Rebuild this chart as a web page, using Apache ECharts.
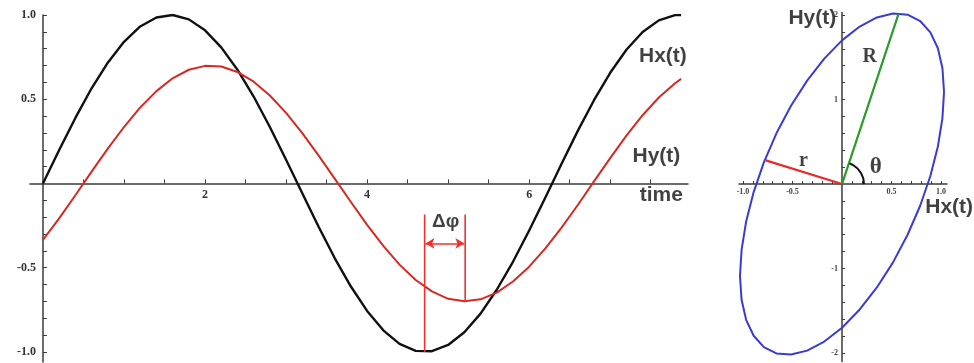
<!DOCTYPE html>
<html>
<head>
<meta charset="utf-8">
<script src="https://cdn.jsdelivr.net/npm/echarts@6/dist/echarts.min.js"></script>
<style>
html,body{margin:0;padding:0;background:#fff;}
#c{width:974px;height:363px;}
</style>
</head>
<body>
<div id="c"></div>
<script>
// ---- Left panel: time series ----
var timeVals = [0,0.2,0.4,0.6,0.8,1.0,1.2,1.4,1.6,1.8,2.0,2.2,2.4,2.6,2.8,3.0,3.2,3.4,3.6,3.8,4.0,4.2,4.4,4.6,4.8,5.0,5.2,5.4,5.6,5.8,6.0,6.2,6.4,6.6,6.8,7.0,7.2,7.4,7.6,7.8,7.875];
var hxVals = [0,0.199,0.389,0.565,0.717,0.841,0.932,0.985,1.0,0.974,0.909,0.808,0.675,0.516,0.335,0.141,-0.058,-0.256,-0.443,-0.612,-0.757,-0.872,-0.952,-0.994,-0.996,-0.959,-0.883,-0.773,-0.631,-0.465,-0.279,-0.083,0.117,0.312,0.494,0.657,0.794,0.899,0.968,0.999,1.0];
var hyVals = [-0.335,-0.207,-0.070,0.070,0.207,0.335,0.451,0.548,0.624,0.675,0.698,0.694,0.662,0.604,0.522,0.419,0.299,0.167,0.029,-0.110,-0.246,-0.371,-0.482,-0.573,-0.641,-0.685,-0.700,-0.688,-0.648,-0.582,-0.494,-0.385,-0.262,-0.128,0.012,0.150,0.284,0.405,0.510,0.595,0.621];
var leftXTicks = [0.5,1,1.5,2,2.5,3,3.5,4,4.5,5,5.5,6,6.5,7,7.5];
var leftXLabels = [2,4,6];
var leftYTicks = [-1,-0.9,-0.8,-0.7,-0.6,-0.5,-0.4,-0.3,-0.2,-0.1,0.1,0.2,0.3,0.4,0.5,0.6,0.7,0.8,0.9,1.0];
var leftYLabels = [-1,-0.5,0.5,1];
// Delta-phi marker: two minima times, top of the marker lines, arrow height, minima values
var dphiTimes = [4.71, 5.21];
var dphiBottoms = [-1.0, -0.70];
var dphiTop = -0.184;
var dphiArrowY = -0.356;
var leftTexts = [
  {name:'Hx(t)', x:7.65, y:0.754},
  {name:'Hy(t)', x:7.57, y:0.16},
  {name:'time',  x:7.63, y:-0.07},
  {name:'Δφ',    x:4.97, y:-0.226}
];

// ---- Right panel: polarisation ellipse ----
var ellX = [1.030,1.014,0.968,0.892,0.789,0.662,0.515,0.352,0.179,0,-0.179,-0.352,-0.515,-0.662,-0.789,-0.892,-0.968,-1.014,-1.030,-1.014,-0.968,-0.892,-0.789,-0.662,-0.515,-0.352,-0.179,0,0.179,0.352,0.515,0.662,0.789,0.892,0.968,1.014,1.030];
var ellY = [1.091,1.370,1.607,1.795,1.929,2.004,2.018,1.971,1.864,1.700,1.484,1.224,0.927,0.600,0.257,-0.095,-0.444,-0.780,-1.091,-1.370,-1.607,-1.795,-1.929,-2.004,-2.018,-1.971,-1.864,-1.700,-1.484,-1.224,-0.927,-0.600,-0.257,0.095,0.444,0.780,1.091];
var bigR = [0.57, 2.01];
var smallR = [-0.77, 0.28];
var arcX = [0.222,0.215,0.192,0.157,0.111,0.076];
var arcY = [0,0.067,0.13,0.184,0.225,0.244];
var rightXTicks = [-1,-0.9,-0.8,-0.7,-0.6,-0.5,-0.4,-0.3,-0.2,-0.1,0.1,0.2,0.3,0.4,0.5,0.6,0.7,0.8,0.9,1.0];
var rightXLabels = [-1,-0.5,0.5,1];
var rightYTicks = [-2,-1.8,-1.6,-1.4,-1.2,-1,-0.8,-0.6,-0.4,-0.2,0.2,0.4,0.6,0.8,1,1.2,1.4,1.6,1.8,2];
var rightYLabels = [-2,-1,1,2];
var rightTexts = [
  {name:'R',     x:0.28,  y:1.50, font:'serif', size:20},
  {name:'r',     x:-0.39, y:0.27, font:'serif', size:20},
  {name:'θ',     x:0.34,  y:0.20, font:'serif', size:23},
  {name:'Hy(t)', x:-0.30, y:1.96, font:'sans',  size:21}
];
var rightHxLabel = {name:'Hx(t)', x:0.84, y:-0.27};

function zip(a,b){ var r=[]; for(var i=0;i<a.length;i++) r.push([a[i],b[i]]); return r; }
function fmt1(v){ return (Math.round(v*10)/10).toFixed(1); }

var axisCol = '#3a3a3a';

// grid geometry (pixel boxes) and axis ranges
var G0 = {left:30, top:15, width:658, height:347};
var G1 = {left:739, top:12.5, width:208, height:349};
var X0 = [-0.16, 7.96], Y0 = [-1.06, 1.0];
var X1 = [-1.04, 1.06], Y1 = [-2.1, 2.03];
// offsets that bring each axis line onto the other axis' zero
var x0Off = -(G0.height * (0 - Y0[0]) / (Y0[1] - Y0[0]));
var y0Off = -(G0.width * (0 - X0[0]) / (X0[1] - X0[0]));
var x1Off = -(G1.height * (0 - Y1[0]) / (Y1[1] - Y1[0]));
var y1Off = -(G1.width * (0 - X1[0]) / (X1[1] - X1[0]));

var chart = echarts.init(document.getElementById('c'), null, {renderer:'canvas'});

var sansBold = {show:true, position:'inside', formatter:'{b}', fontFamily:'Liberation Sans', fontWeight:'bold', fontSize:21, color:'#111'};

function labelSeries(items, xi, yi, baseLabel){
  return {
    type:'scatter', xAxisIndex:xi, yAxisIndex:yi, symbolSize:0, silent:true, z:10,
    data: items.map(function(it){
      var l = Object.assign({}, baseLabel);
      if (it.font === 'serif') { l.fontFamily = 'Liberation Serif'; }
      if (it.size) l.fontSize = it.size;
      return {value:[it.x,it.y], name:it.name, label:l};
    }),
    label:{show:true, position:'inside', formatter:'{b}'}
  };
}

var option = {
  animation:false,
  backgroundColor:'#fff',
  grid:[G0, G1],
  xAxis:[
    {gridIndex:0, type:'value', min:X0[0], max:X0[1], position:'bottom', offset:x0Off,
     axisLine:{onZero:false, lineStyle:{color:axisCol, width:1.5}},
     axisTick:{show:true, inside:true, length:4, customValues:leftXTicks, lineStyle:{color:axisCol}},
     axisLabel:{show:true, customValues:leftXLabels, margin:5, fontSize:12, formatter:function(v){return String(v);}, fontFamily:'Liberation Serif', fontWeight:'bold', color:'#333'},
     splitLine:{show:false}},
    {gridIndex:1, type:'value', min:X1[0], max:X1[1], position:'bottom', offset:x1Off,
     axisLine:{onZero:false, lineStyle:{color:axisCol, width:1.5}},
     axisTick:{show:true, inside:true, length:3, customValues:rightXTicks, lineStyle:{color:axisCol}},
     axisLabel:{show:true, customValues:rightXLabels, margin:4, fontSize:8, formatter:fmt1, fontFamily:'Liberation Serif', fontWeight:'bold', color:'#444'},
     splitLine:{show:false}}
  ],
  yAxis:[
    {gridIndex:0, type:'value', min:Y0[0], max:Y0[1], position:'left', offset:y0Off,
     axisLine:{onZero:false, lineStyle:{color:axisCol, width:1.5}},
     axisTick:{show:true, inside:true, length:4, customValues:leftYTicks, lineStyle:{color:axisCol}},
     axisLabel:{show:true, customValues:leftYLabels, margin:7, fontSize:12, formatter:fmt1, fontFamily:'Liberation Serif', fontWeight:'bold', color:'#333'},
     splitLine:{show:false}},
    {gridIndex:1, type:'value', min:Y1[0], max:Y1[1], position:'left', offset:y1Off,
     axisLine:{onZero:false, lineStyle:{color:axisCol, width:1.5}},
     axisTick:{show:true, inside:true, length:3, customValues:rightYTicks, lineStyle:{color:axisCol}},
     axisLabel:{show:true, customValues:rightYLabels, margin:4, fontSize:8, formatter:function(v){return String(Math.round(v));}, fontFamily:'Liberation Serif', fontWeight:'bold', color:'#444'},
     splitLine:{show:false}}
  ],
  series:[
    {name:'Hx', type:'line', xAxisIndex:0, yAxisIndex:0, data:zip(timeVals,hxVals), smooth:false, symbol:'none',
     lineStyle:{color:'#111', width:2.4, join:'round'}, z:3},
    {name:'Hy', type:'line', xAxisIndex:0, yAxisIndex:0, data:zip(timeVals,hyVals), smooth:false, symbol:'none',
     lineStyle:{color:'#d42a25', width:2, join:'round'}, z:3},
    {type:'line', xAxisIndex:0, yAxisIndex:0, data:[[dphiTimes[0],dphiTop],[dphiTimes[0],dphiBottoms[0]]], symbol:'none',
     lineStyle:{color:'#f03030', width:1.6}, z:4},
    {type:'line', xAxisIndex:0, yAxisIndex:0, data:[[dphiTimes[1],dphiTop],[dphiTimes[1],dphiBottoms[1]]], symbol:'none',
     lineStyle:{color:'#f03030', width:1.6}, z:4},
    {type:'line', xAxisIndex:0, yAxisIndex:0, data:[[dphiTimes[0],dphiArrowY],[dphiTimes[1],dphiArrowY]], symbol:'none',
     lineStyle:{opacity:0}, silent:true,
     markLine:{silent:true, symbol:['arrow','arrow'], symbolSize:[8,9], label:{show:false},
       lineStyle:{color:'#f03030', width:1.6, type:'solid'},
       data:[[{coord:[dphiTimes[0]+0.01,dphiArrowY]},{coord:[dphiTimes[1]-0.01,dphiArrowY]}]]}},
    labelSeries(leftTexts.slice(0,3), 0, 0, sansBold),
    labelSeries([leftTexts[3]], 0, 0, Object.assign({}, sansBold, {fontSize:19})),

    {name:'ellipse', type:'line', xAxisIndex:1, yAxisIndex:1, data:zip(ellX,ellY), smooth:false, symbol:'none', clip:false,
     lineStyle:{color:'#3b3bd0', width:2, join:'round'}, z:3},
    {type:'line', xAxisIndex:1, yAxisIndex:1, data:[[0,0],bigR], symbol:'none', lineStyle:{color:'#2c9a2c', width:2.2}, z:4},
    {type:'line', xAxisIndex:1, yAxisIndex:1, data:[[0,0],smallR], symbol:'none', lineStyle:{color:'#e62a2a', width:2.2}, z:4},
    {type:'line', xAxisIndex:1, yAxisIndex:1, data:zip(arcX,arcY), smooth:false, symbol:'none', lineStyle:{color:'#111', width:2, join:'round'}, z:4},
    labelSeries(rightTexts, 1, 1, sansBold),
    {type:'scatter', xAxisIndex:1, yAxisIndex:1, symbolSize:0, silent:true, z:10, clip:false,
     data:[{value:[rightHxLabel.x, rightHxLabel.y], name:rightHxLabel.name}],
     label:{show:true, position:'right', distance:0, formatter:'{b}', fontFamily:'Liberation Sans', fontWeight:'bold', fontSize:21, color:'#111'}}
  ]
};
chart.setOption(option);
</script>
</body>
</html>
